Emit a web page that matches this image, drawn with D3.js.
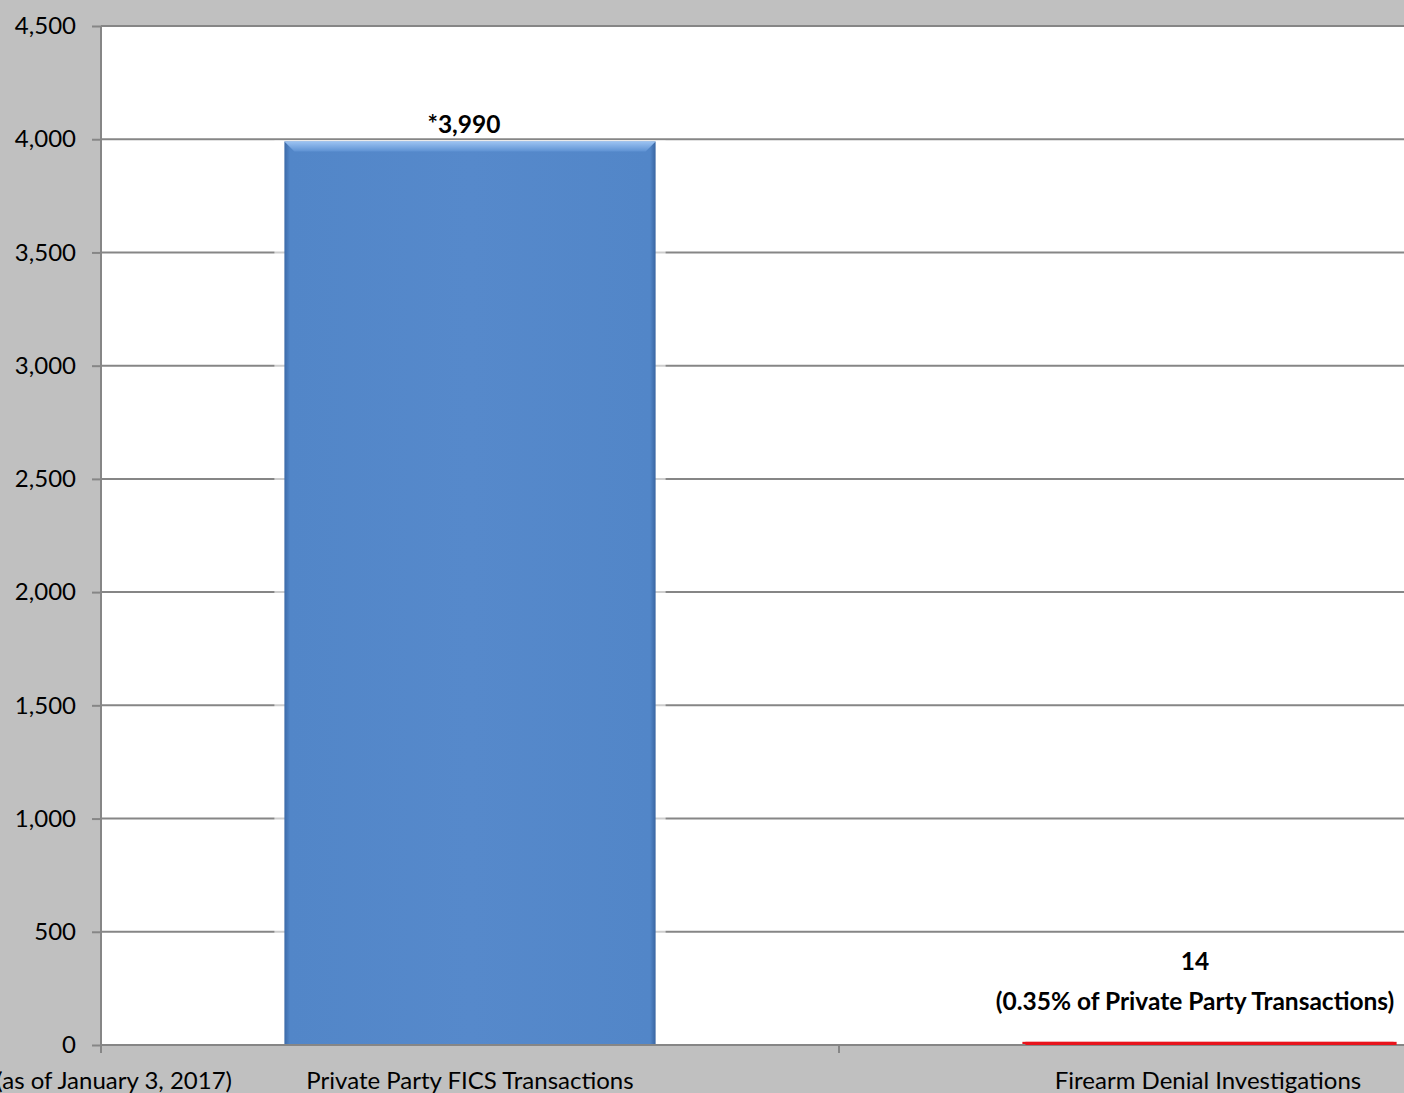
<!DOCTYPE html>
<html>
<head>
<meta charset="utf-8">
<script src="https://cdn.jsdelivr.net/npm/d3@7"></script>
<style>
  body { margin: 0; background: #c0c0c0; overflow: hidden; }
  text { font-family: Lato, "Open Sans", sans-serif; fill: #000; }
</style>
</head>
<body>
<div id="chart"></div>
<script>
// chart data
var categories = ["Private Party FICS Transactions", "Firearm Denial Investigations"];
var values = [3990, 14];
var barLabels = [["*3,990"], ["14", "(0.35% of Private Party Transactions)"]];
var barColors = ["#5689cb", "#e8141c"];
var yTicks = [0, 500, 1000, 1500, 2000, 2500, 3000, 3500, 4000, 4500];
var sideNote = "(as of January 3, 2017)";

var svgWidth = 1404;
var svgHeight = 1093;

var margin = { top: 26, right: -173, bottom: 48, left: 101 };

var width = svgWidth - margin.left - margin.right;
var height = svgHeight - margin.top - margin.bottom;

var svg = d3.select("#chart")
  .append("svg")
  .attr("width", svgWidth)
  .attr("height", svgHeight);

svg.append("rect")
  .attr("width", svgWidth)
  .attr("height", svgHeight)
  .attr("fill", "#c0c0c0");

var defs = svg.append("defs");

// side shading of the 3d-ish bars
var sideGrad = defs.append("linearGradient").attr("id", "side");
sideGrad.append("stop").attr("offset", "0%").attr("stop-color", "#3c6aa8");
sideGrad.append("stop").attr("offset", "1.5%").attr("stop-color", "#5286c8");
sideGrad.append("stop").attr("offset", "50%").attr("stop-color", "#5689cb");
sideGrad.append("stop").attr("offset", "98.5%").attr("stop-color", "#5286c8");
sideGrad.append("stop").attr("offset", "100%").attr("stop-color", "#3a66a2");

var topGrad = defs.append("linearGradient").attr("id", "topbevel")
  .attr("x1", 0).attr("x2", 0).attr("y1", 0).attr("y2", 1);
topGrad.append("stop").attr("offset", "0%").attr("stop-color", "#9cc3f2");
topGrad.append("stop").attr("offset", "100%").attr("stop-color", "#5e92d3");

var chartGroup = svg.append("g")
  .attr("transform", `translate(${margin.left},${margin.top})`);

var xBandScale = d3.scaleBand()
  .domain(categories)
  .range([0, width])
  .paddingInner(0.497)
  .paddingOuter(0.2485);

var yLinearScale = d3.scaleLinear()
  .domain([0, 4500])
  .range([height, 0]);

// plot area
chartGroup.append("rect")
  .attr("width", width)
  .attr("height", height)
  .attr("fill", "#fff");

// gridlines
chartGroup.append("g")
  .selectAll("line")
  .data(yTicks.filter(d => d > 0))
  .enter()
  .append("line")
  .attr("x1", 0)
  .attr("x2", width)
  .attr("y1", d => yLinearScale(d))
  .attr("y2", d => yLinearScale(d))
  .attr("stroke", "#868686")
  .attr("stroke-width", 2);

// y axis
var leftAxis = d3.axisLeft(yLinearScale)
  .tickValues(yTicks)
  .tickSize(9)
  .tickPadding(16)
  .tickFormat(d3.format(","));

var yAxis = chartGroup.append("g").call(leftAxis);
yAxis.select(".domain").remove();
yAxis.selectAll("line").attr("stroke", "#868686").attr("stroke-width", 2);
yAxis.selectAll("text")
  .style("font-family", "Lato, 'Open Sans', sans-serif")
  .style("font-size", "24px")
  .attr("fill", "#000");

chartGroup.append("line")
  .attr("x1", 0).attr("x2", 0)
  .attr("y1", 0).attr("y2", height + 8)
  .attr("stroke", "#868686")
  .attr("stroke-width", 2);

// soft halo behind bars
var step = xBandScale.step();
chartGroup.append("g")
  .selectAll("rect")
  .data(values)
  .enter()
  .append("rect")
  .attr("x", (d, i) => xBandScale(categories[i]) - 10)
  .attr("y", d => yLinearScale(d) - 1)
  .attr("width", xBandScale.bandwidth() + 20)
  .attr("height", d => height - yLinearScale(d) + 1)
  .attr("fill", "#fff")
  .attr("opacity", 0.6);

// bars
var bars = chartGroup.append("g")
  .selectAll("g")
  .data(values)
  .enter()
  .append("g");

bars.append("rect")
  .attr("x", (d, i) => xBandScale(categories[i]))
  .attr("y", d => yLinearScale(d))
  .attr("width", xBandScale.bandwidth())
  .attr("height", d => height - yLinearScale(d))
  .attr("fill", (d, i) => i === 0 ? "url(#side)" : barColors[i]);

// top bevel of the tall bar
bars.filter((d, i) => i === 0)
  .append("polygon")
  .attr("points", (d, i) => {
    var x0 = xBandScale(categories[0]);
    var x1 = x0 + xBandScale.bandwidth();
    var y0 = yLinearScale(d);
    return [[x0, y0], [x1, y0], [x1 - 10, y0 + 10], [x0 + 10, y0 + 10]].join(" ");
  })
  .attr("fill", "url(#topbevel)");

// x axis baseline and ticks
chartGroup.append("line")
  .attr("x1", 0).attr("x2", width)
  .attr("y1", height).attr("y2", height)
  .attr("stroke", "#868686")
  .attr("stroke-width", 2);

var tickXs = categories.map(c => xBandScale(c) - step * 0.2485).concat([width]);
chartGroup.append("g")
  .selectAll("line")
  .data(tickXs)
  .enter()
  .append("line")
  .attr("x1", d => d).attr("x2", d => d)
  .attr("y1", height).attr("y2", height + 8)
  .attr("stroke", "#868686")
  .attr("stroke-width", 2);

// red bar repainted over the baseline
chartGroup.append("rect")
  .attr("x", xBandScale(categories[1]) + 3)
  .attr("y", yLinearScale(values[1]))
  .attr("width", xBandScale.bandwidth())
  .attr("height", height - yLinearScale(values[1]))
  .attr("fill", barColors[1]);

// category labels
chartGroup.append("g")
  .selectAll("text")
  .data(categories)
  .enter()
  .append("text")
  .attr("x", d => xBandScale(d) + xBandScale.bandwidth() / 2)
  .attr("y", height + 44)
  .attr("text-anchor", "middle")
  .style("font-size", "24px")
  .text(d => d);

chartGroup.append("text")
  .attr("x", 131)
  .attr("y", height + 44)
  .attr("text-anchor", "end")
  .style("font-size", "24px")
  .text(sideNote);

// value labels
chartGroup.append("text")
  .attr("x", xBandScale(categories[0]) + xBandScale.bandwidth() / 2 - 6)
  .attr("y", yLinearScale(values[0]) - 8)
  .attr("text-anchor", "middle")
  .style("font-size", "24.5px")
  .style("font-weight", "bold")
  .text(barLabels[0][0]);

var secondLabel = chartGroup.append("text")
  .attr("y", yLinearScale(values[1]) - 72)
  .attr("text-anchor", "middle")
  .style("font-size", "24.5px")
  .style("font-weight", "bold");

secondLabel.selectAll("tspan")
  .data(barLabels[1])
  .enter()
  .append("tspan")
  .attr("x", xBandScale(categories[1]) + xBandScale.bandwidth() / 2 - 13)
  .attr("dy", (d, i) => i === 0 ? 0 : 40)
  .text(d => d);
</script>
</body>
</html>
